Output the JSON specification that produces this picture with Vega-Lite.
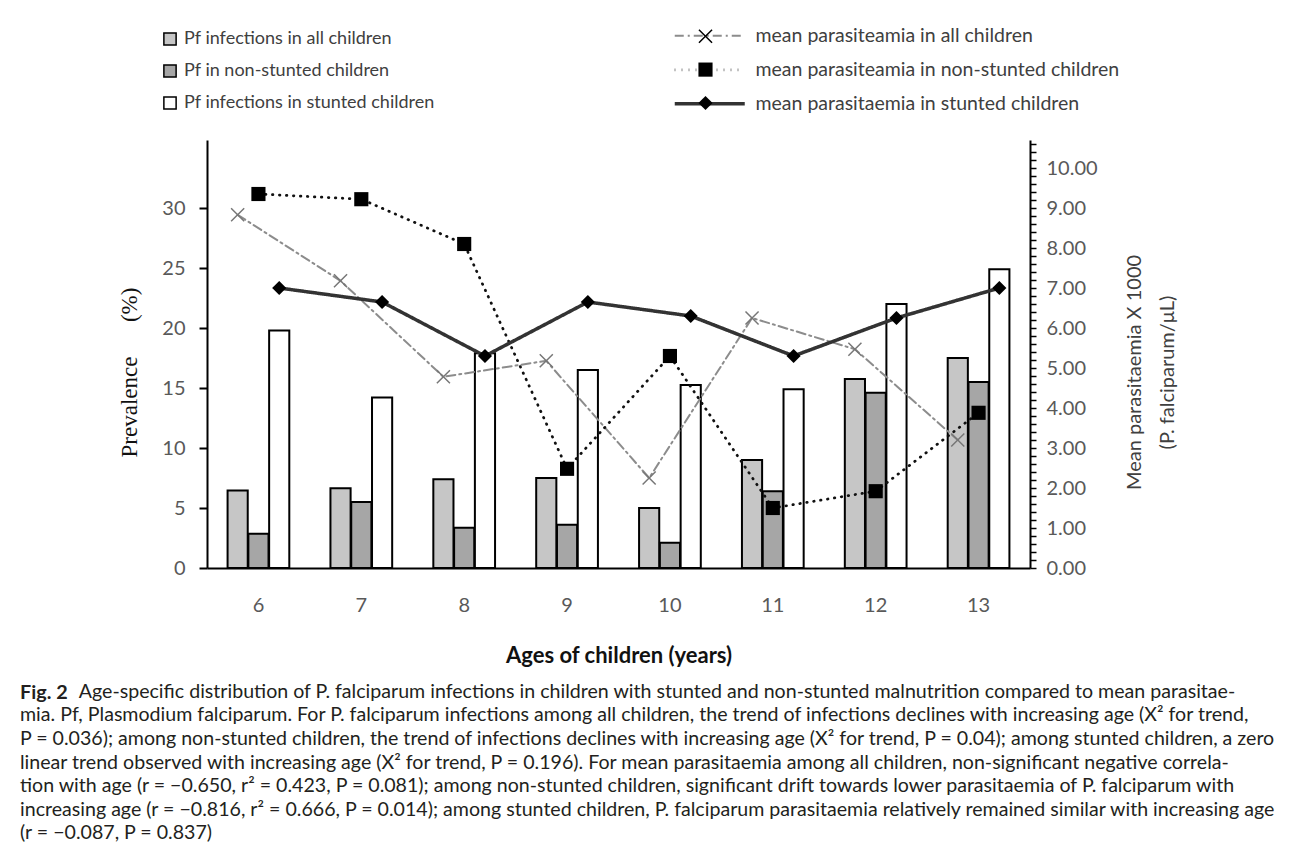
{
  "$schema": "https://vega.github.io/schema/vega-lite/v6.json",
  "width": 823,
  "height": 428,
  "autosize": {"type": "none"},
  "padding": {"left": 207, "top": 140, "right": 260, "bottom": 298},
  "background": "white",
  "config": {"view": {"stroke": null}, "font": "Lato"},
  "datasets": {
    "bars": [
      {"age": 6, "bar": "a", "prevalence": 6.45}, {"age": 6, "bar": "n", "prevalence": 2.85}, {"age": 6, "bar": "s", "prevalence": 19.8},
      {"age": 7, "bar": "a", "prevalence": 6.65}, {"age": 7, "bar": "n", "prevalence": 5.5}, {"age": 7, "bar": "s", "prevalence": 14.2},
      {"age": 8, "bar": "a", "prevalence": 7.4}, {"age": 8, "bar": "n", "prevalence": 3.35}, {"age": 8, "bar": "s", "prevalence": 17.9},
      {"age": 9, "bar": "a", "prevalence": 7.5}, {"age": 9, "bar": "n", "prevalence": 3.6}, {"age": 9, "bar": "s", "prevalence": 16.5},
      {"age": 10, "bar": "a", "prevalence": 5.0}, {"age": 10, "bar": "n", "prevalence": 2.1}, {"age": 10, "bar": "s", "prevalence": 15.25},
      {"age": 11, "bar": "a", "prevalence": 9.0}, {"age": 11, "bar": "n", "prevalence": 6.4}, {"age": 11, "bar": "s", "prevalence": 14.9},
      {"age": 12, "bar": "a", "prevalence": 15.75}, {"age": 12, "bar": "n", "prevalence": 14.6}, {"age": 12, "bar": "s", "prevalence": 22.0},
      {"age": 13, "bar": "a", "prevalence": 17.5}, {"age": 13, "bar": "n", "prevalence": 15.5}, {"age": 13, "bar": "s", "prevalence": 24.9}
    ],
    "lines": [
      {"age": 6, "line": "a", "par": 8.83}, {"age": 7, "line": "a", "par": 7.18}, {"age": 8, "line": "a", "par": 4.78}, {"age": 9, "line": "a", "par": 5.18},
      {"age": 10, "line": "a", "par": 2.25}, {"age": 11, "line": "a", "par": 6.25}, {"age": 12, "line": "a", "par": 5.47}, {"age": 13, "line": "a", "par": 3.2},
      {"age": 6, "line": "n", "par": 9.35}, {"age": 7, "line": "n", "par": 9.22}, {"age": 8, "line": "n", "par": 8.1}, {"age": 9, "line": "n", "par": 2.48},
      {"age": 10, "line": "n", "par": 5.3}, {"age": 11, "line": "n", "par": 1.5}, {"age": 12, "line": "n", "par": 1.92}, {"age": 13, "line": "n", "par": 3.88},
      {"age": 6, "line": "s", "par": 7.0}, {"age": 7, "line": "s", "par": 6.65}, {"age": 8, "line": "s", "par": 5.3}, {"age": 9, "line": "s", "par": 6.65},
      {"age": 10, "line": "s", "par": 6.3}, {"age": 11, "line": "s", "par": 5.3}, {"age": 12, "line": "s", "par": 6.25}, {"age": 13, "line": "s", "par": 7.0}
    ]
  },
  "title": {
    "text": "Fig. 2",
    "subtitle": [
      "\u200b\u2002\u2002\u2002\u2002\u2002\u2002Age-specific distribution of P. falciparum infections in children with stunted and non-stunted malnutrition compared to mean parasitae-",
      "mia. Pf, Plasmodium falciparum. For P. falciparum infections among all children, the trend of infections declines with increasing age (X\u00b2 for trend,",
      "P = 0.036); among non-stunted children, the trend of infections declines with increasing age (X\u00b2 for trend, P = 0.04); among stunted children, a zero",
      "linear trend observed with increasing age (X\u00b2 for trend, P = 0.196). For mean parasitaemia among all children, non-significant negative correla-",
      "tion with age (r = \u22120.650, r\u00b2 = 0.423, P = 0.081); among non-stunted children, significant drift towards lower parasitaemia of P. falciparum with",
      "increasing age (r = \u22120.816, r\u00b2 = 0.666, P = 0.014); among stunted children, P. falciparum parasitaemia relatively remained similar with increasing age",
      "(r = \u22120.087, P = 0.837)"
    ],
    "orient": "bottom",
    "anchor": "start",
    "frame": "group",
    "align": "left",
    "dx": -187,
    "offset": 17,
    "font": "Lato",
    "fontSize": 19.8,
    "fontWeight": "bold",
    "color": "#231f20",
    "subtitleFont": "Lato",
    "subtitleFontSize": 19.6,
    "subtitleColor": "#231f20",
    "subtitleLineHeight": 23.6,
    "subtitlePadding": -20
  },
  "layer": [
    {
      "data": {"name": "bars"},
      "mark": {"type": "bar", "stroke": "black", "strokeWidth": 2},
      "encoding": {
        "x": {
          "field": "age", "type": "ordinal",
          "scale": {"paddingInner": 0.4, "paddingOuter": 0.2},
          "axis": {
            "title": "Ages of children (years)", "labelAngle": 0,
            "titleFont": "Lato", "titleFontSize": 22, "titleFontWeight": "bold", "titleColor": "#111111", "titlePadding": 30,
            "labelFont": "Lato", "labelFontSize": 20, "labelColor": "#595959", "labelPadding": 27,
            "ticks": false, "domainColor": "black", "domainWidth": 2
          }
        },
        "xOffset": {"field": "bar", "scale": {"domain": ["a", "n", "s"], "paddingInner": 0.03}},
        "y": {
          "field": "prevalence", "type": "quantitative",
          "scale": {"domain": [0, 35.67], "nice": false},
          "axis": {
            "orient": "left", "values": [0, 5, 10, 15, 20, 25, 30], "grid": false,
            "title": "Prevalence\u00a0\u00a0\u00a0\u00a0\u00a0\u00a0(%)", "titleFont": "Liberation Serif", "titleFontSize": 23, "titleFontWeight": "normal", "titleColor": "#111111", "titlePadding": 20, "titleY": 232,
            "labelFont": "Lato", "labelFontSize": 20, "labelColor": "#595959", "labelPadding": 14,
            "domainColor": "black", "domainWidth": 2, "tickColor": "black", "tickWidth": 2, "tickSize": 8
          }
        },
        "fill": {
          "field": "bar", "type": "nominal",
          "scale": {"range": ["#c6c6c6", "#a6a6a6", "#ffffff"]},
          "legend": {
            "title": null, "orient": "none", "legendX": -46, "legendY": -110,
            "labelExpr": "datum.value == 'a' ? 'Pf infections in all children' : datum.value == 'n' ? 'Pf in non-stunted children' : 'Pf infections in stunted children'",
            "labelFont": "Lato", "labelFontSize": 18, "labelColor": "#404040", "labelOffset": 5, "labelLimit": 500,
            "symbolType": "square", "symbolSize": 150, "symbolStrokeColor": "black", "symbolStrokeWidth": 1.5, "rowPadding": 12
          }
        }
      }
    },
    {
      "data": {"name": "lines"},
      "layer": [
        {
          "mark": {"type": "line", "strokeCap": "round"},
          "encoding": {
            "x": {"field": "age", "type": "ordinal"},
            "xOffset": {"field": "line"},
            "y": {
              "field": "par", "type": "quantitative",
              "scale": {"domain": [0, 10.7], "nice": false},
              "axis": {
                "orient": "right", "grid": false,
                "values": [0, 0.2, 0.4, 0.6, 0.8, 1, 1.2, 1.4, 1.6, 1.8, 2, 2.2, 2.4, 2.6, 2.8, 3, 3.2, 3.4, 3.6, 3.8, 4, 4.2, 4.4, 4.6, 4.8, 5, 5.2, 5.4, 5.6, 5.8, 6, 6.2, 6.4, 6.6, 6.8, 7, 7.2, 7.4, 7.6, 7.8, 8, 8.2, 8.4, 8.6, 8.8, 9, 9.2, 9.4, 9.6, 9.8, 10, 10.2, 10.4, 10.6],
                "tickCount": 60,
                "labelExpr": "abs(round(datum.value) - datum.value) < 0.01 ? format(datum.value, '.2f') : ''",
                "labelOverlap": false,
                "title": ["Mean parasitaemia X 1000", "(P. falciparum/\u03bcL)"], "titleAngle": -90, "titleY": 232,
                "titleFont": "Lato", "titleFontSize": 20, "titleFontWeight": "normal", "titleColor": "#404040", "titlePadding": 14, "titleLineHeight": 33,
                "labelFont": "Lato", "labelFontSize": 20, "labelColor": "#595959", "labelPadding": 10,
                "domainColor": "black", "domainWidth": 2, "tickColor": "black", "tickWidth": 1.5, "tickSize": 6
              }
            },
            "stroke": {
              "field": "line", "type": "nominal",
              "scale": {"range": ["#8c8c8c", "#111111", "#333333"]},
              "legend": {
                "title": null, "orient": "none", "legendX": 521, "legendY": -114,
                "labelExpr": "datum.value == 'a' ? 'mean parasiteamia in all children' : datum.value == 'n' ? 'mean parasiteamia in non-stunted children' : 'mean parasitaemia in stunted children'",
                "labelFont": "Lato", "labelFontSize": 19.5, "labelColor": "#404040", "labelOffset": 8, "labelLimit": 500,
                "symbolType": "M-9,0L1,0", "symbolSize": 196, "rowPadding": 13
              }
            },
            "strokeDash": {
              "field": "line", "type": "nominal",
              "scale": {"range": [[9, 4, 2, 4], [0.5, 6.5], [1, 0]]}
            },
            "strokeWidth": {
              "field": "line", "type": "nominal",
              "scale": {"range": [2, 3.5, 2]}
            }
          }
        },
        {
          "mark": {"type": "point", "filled": true, "size": 200, "opacity": 1},
          "encoding": {
            "x": {"field": "age", "type": "ordinal"},
            "xOffset": {"field": "line"},
            "y": {"field": "par", "type": "quantitative"},
            "color": {
              "field": "line", "type": "nominal",
              "scale": {"range": ["#777777", "#000000", "#000000"]},
              "legend": null
            },
            "shape": {
              "field": "line", "type": "nominal",
              "scale": {
                "domain": ["a", "n", "s"],
                "range": ["M-1,-0.85L-0.85,-1L0,-0.15L0.85,-1L1,-0.85L0.15,0L1,0.85L0.85,1L0,0.15L-0.85,1L-1,0.85L-0.15,0Z", "square", "diamond"]
              },
              "legend": {
                "title": null, "orient": "none", "legendX": 491, "legendY": -111.3,
                "labelExpr": "''",
                "labelFont": "Lato", "labelFontSize": 1, "labelOpacity": 0, "labelOffset": 2,
                "symbolSize": 200, "symbolFillColor": "black", "symbolStrokeColor": "#666666", "symbolStrokeWidth": 0, "rowPadding": 18.4
              }
            }
          }
        }
      ]
    }
  ],
  "resolve": {"scale": {"y": "independent"}}
}
